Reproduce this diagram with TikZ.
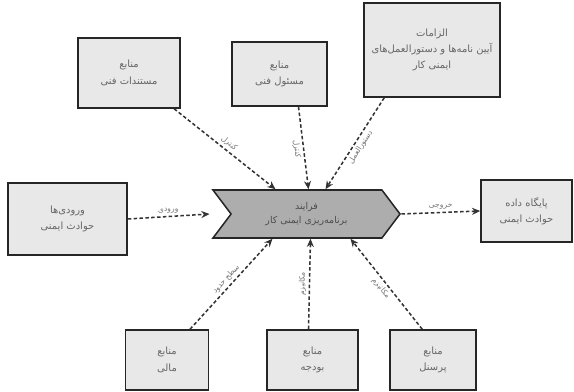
\documentclass[tikz,border=0pt]{standalone}
\usepackage{fontspec}
\newfontfamily\arabicfont[Script=Arabic]{DejaVu Sans}
\TeXXeTstate=1
\usetikzlibrary{shapes.symbols,arrows.meta,calc}
\newcommand{\fa}[1]{\beginR #1\endR}
\def\px{0.03cm}

\begin{document}
\begin{tikzpicture}[x=\px, y=-\px, >={Stealth[length=7pt,width=6pt]},
  box/.style={draw=black!85, line width=1.3pt, fill=black!9, inner sep=2pt,
    align=center, font=\arabicfont\fontsize{8.5}{14}\selectfont, text=black!60},
  flow/.style={->, line width=1.3pt, dash pattern=on 3pt off 2pt, draw=black!80},
  lbl/.style={font=\arabicfont\fontsize{6.5}{7}\selectfont, text=black!55, sloped, inner sep=2pt}]
  \useasboundingbox (0,0) rectangle (574,392);

  % boxes round the process
  \node[box, minimum width=102*\px, minimum height=70*\px] (tl) at (129,73) {\fa{منابع}\\\fa{مستندات فنی}};
  \node[box, minimum width=95*\px, minimum height=64*\px] (tm) at (279.5,74) {\fa{منابع}\\\fa{مسئول فنی}};
  \node[box, minimum width=136*\px, minimum height=94*\px] (tr) at (432,50) {\fa{الزامات}\\\fa{آیین نامه‌ها و دستورالعمل‌های}\\\fa{ایمنی کار}};
  \node[box, minimum width=119*\px, minimum height=72*\px] (lf) at (67.5,219) {\fa{ورودی‌ها}\\\fa{حوادث ایمنی}};
  \node[box, minimum width=91*\px, minimum height=62*\px] (rt) at (526.5,211) {\fa{پایگاه داده}\\\fa{حوادث ایمنی}};
  \node[box, minimum width=83*\px, minimum height=60*\px] (bl) at (167,360) {\fa{منابع}\\\fa{مالی}};
  \node[box, minimum width=91*\px, minimum height=60*\px] (bm) at (312.5,360) {\fa{منابع}\\\fa{بودجه}};
  \node[box, minimum width=86*\px, minimum height=60*\px] (br) at (433,360) {\fa{منابع}\\\fa{پرسنل}};

  % the process
  \node[signal, signal from=west, signal to=east, signal pointer angle=106,
    draw=black!85, line width=1.3pt, fill=black!32, minimum width=187*\px, minimum height=48*\px,
    inner sep=0pt, align=center, font=\arabicfont\fontsize{8}{12}\selectfont, text=black!70]
    (proc) at (306.5,214) {\fa{فرایند}\\\fa{برنامه‌ریزی ایمنی کار}};

  % connectors
  \draw[flow] ([xshift=-0.2cm]tl.south east) -- node[lbl, above] {\fa{کنترل}} ($(proc.north)+(-31,0)$);
  \draw[flow] ($(tm.south)+(19,0)$) -- node[lbl, below] {\fa{کنترل}} ($(proc.north)+(2,0)$);
  \draw[flow] ($(tr.south west)+(21,0)$) -- node[lbl, below] {\fa{دستورالعمل}} ($(proc.north)+(19,0)$);
  \draw[flow] (lf.east) -- node[lbl, above] {\fa{ورودی}} ($(proc.center)+(-97,0)$);
  \draw[flow] ($(proc.center)+(95,0)$) -- node[lbl, above] {\fa{خروجی}} (rt.west);
  \draw[flow] ($(bl.north)+(23,0)$) -- node[lbl, above] {\fa{سطح حدود}} ($(proc.south)+(-34,0)$);
  \draw[flow] ($(bm.north)+(-4,0)$) -- node[lbl, above] {\fa{مکانیزم}} ($(proc.south)+(4,0)$);
  \draw[flow] ($(br.north west)+(33,0)$) -- node[lbl, below] {\fa{مکانیزم}} ($(proc.south)+(44,0)$);
\end{tikzpicture}
\end{document}
